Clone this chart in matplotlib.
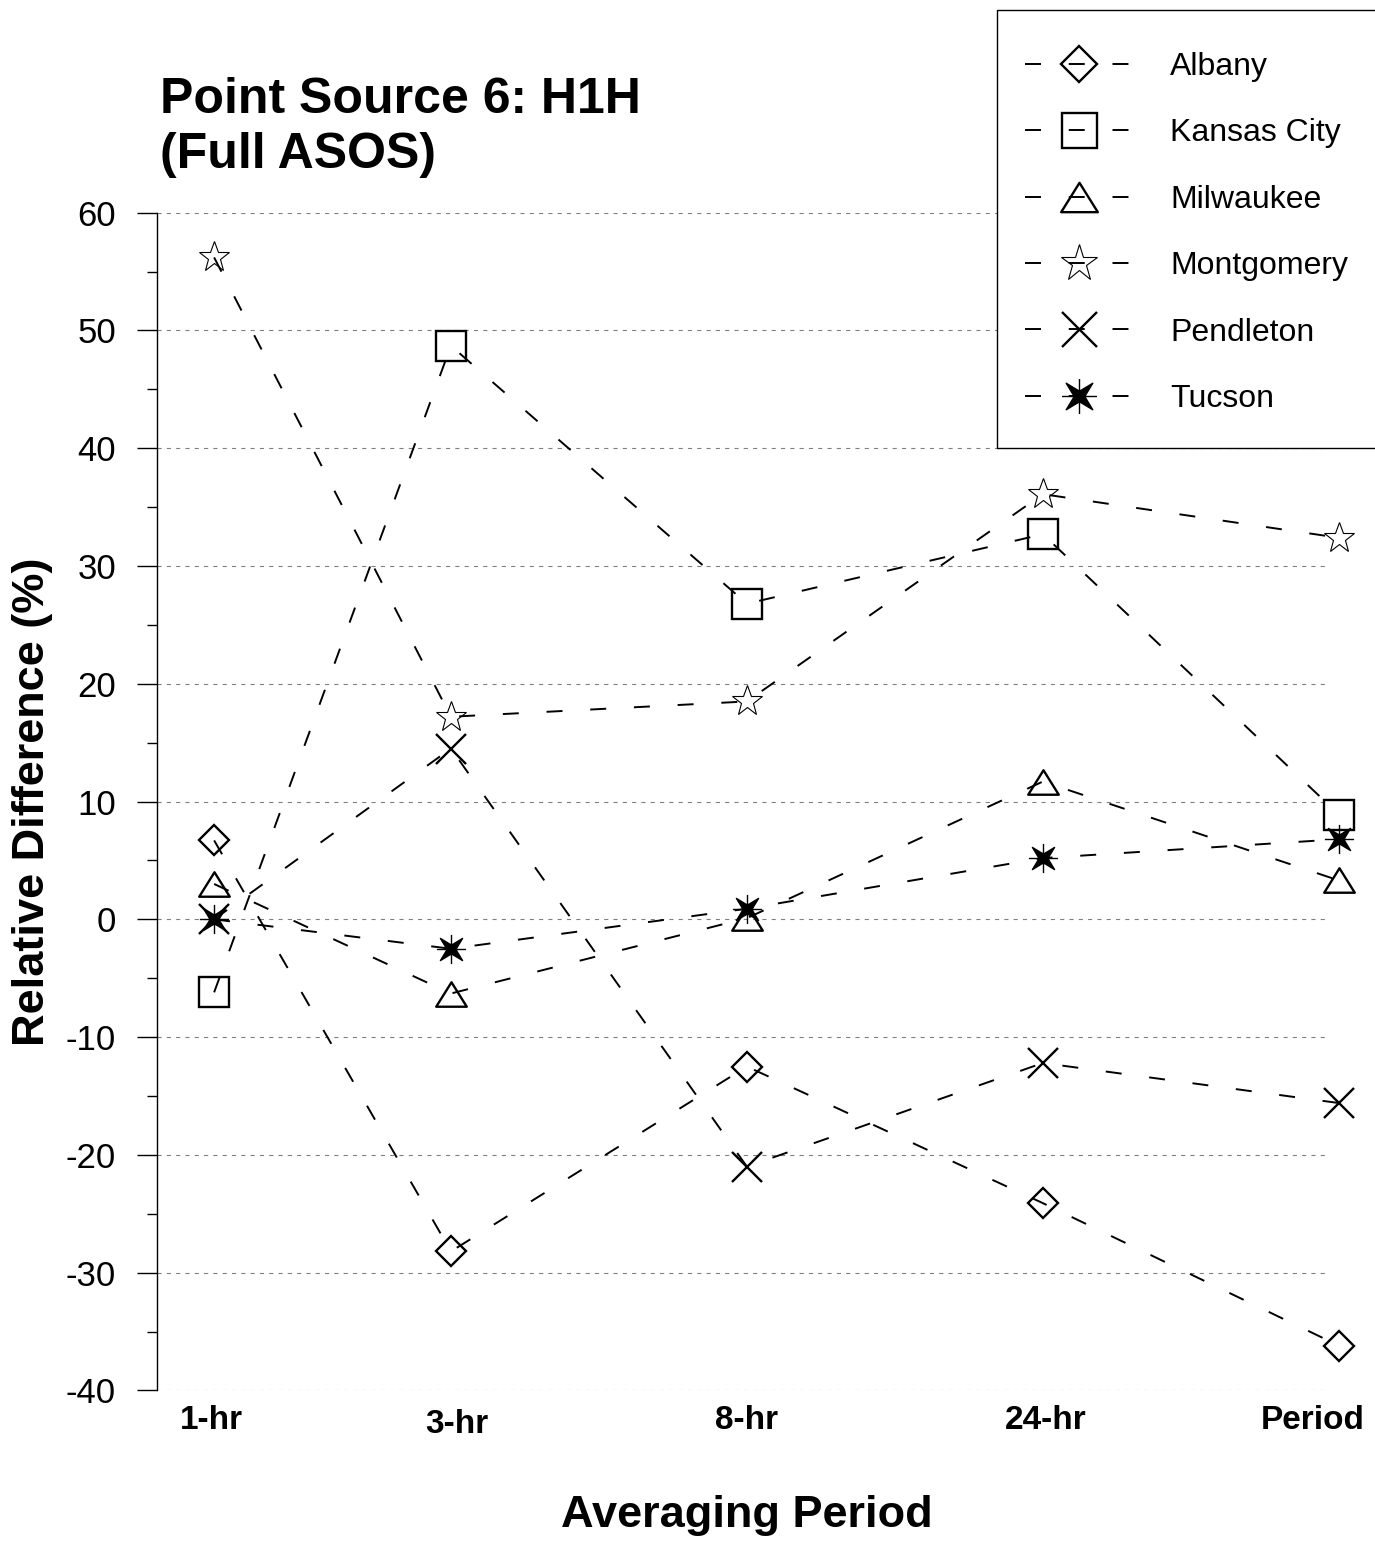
import matplotlib
matplotlib.use("Agg")
import matplotlib.pyplot as plt
import numpy as np
from matplotlib.path import Path
from matplotlib.patches import Rectangle

plt.rcParams["font.family"] = ["Liberation Sans", "DejaVu Sans"]
plt.rcParams["lines.scale_dashes"] = False
plt.rcParams["axes.unicode_minus"] = False

# data
periods = ["1-hr", "3-hr", "8-hr", "24-hr", "Period"]
albany = [6.7, -28.2, -12.5, -24.1, -36.2]
kansas_city = [-6.2, 48.7, 26.8, 32.7, 8.9]
milwaukee = [3.0, -6.3, 0.1, 11.7, 3.3]
montgomery = [56.2, 17.2, 18.5, 36.1, 32.4]
pendleton = [0.0, 14.5, -21.0, -12.2, -15.6]
tucson = [0.0, -2.5, 0.9, 5.2, 6.8]

# layout: category positions on the x axis (first gap is narrower in the original)
cat_pos = np.array([0.2, 1, 2, 3, 4])
label_shift = [-0.01, 0.02, 0.0, 0.01, -0.09]
label_drop = [0, 4, 0, 0, 0]  # px, "3-hr" sits a bit lower

W, H = 1375, 1541
fig = plt.figure(figsize=(W / 100, H / 100), dpi=100)
ax = fig.add_axes([157 / W, 1 - 1390.4 / H, (1330 - 157) / W, (1390.4 - 212.7) / H])

triangle = Path([(-0.5, -0.4), (0.5, -0.4), (0.0, 0.4), (-0.5, -0.4)],
                [Path.MOVETO, Path.LINETO, Path.LINETO, Path.CLOSEPOLY])
s, t = 0.15, 0.38
tucson_marker = Path(
    [(t, t), (0, s), (-t, t), (-s, 0), (-t, -t), (0, -s), (t, -t), (s, 0), (t, t),
     (-0.5, 0), (0.5, 0), (0, -0.5), (0, 0.5)],
    [Path.MOVETO] + [Path.LINETO] * 7 + [Path.CLOSEPOLY,
     Path.MOVETO, Path.LINETO, Path.MOVETO, Path.LINETO])

dash = (0, (11.5, 20))
series = [
    ("Albany", albany, dict(marker="D", ms=15.3, mew=1.7, mfc="none")),
    ("Kansas City", kansas_city, dict(marker="s", ms=21, mew=1.7, mfc="none")),
    ("Milwaukee", milwaukee, dict(marker=triangle, ms=22, mew=1.7, mfc="none")),
    ("Montgomery", montgomery, dict(marker="*", ms=23, mew=0.8, mfc="none")),
    ("Pendleton", pendleton, dict(marker="x", ms=21, mew=1.7)),
    ("Tucson", tucson, dict(marker=tucson_marker, ms=21, mew=1.0, mfc="black")),
]
handles = []
for name, vals, style in series:
    (ln,) = ax.plot(cat_pos, vals, color="black", lw=1.4, linestyle=dash,
                    mec="black", clip_on=False, label=name, **style)
    handles.append(ln)

ax.set_xlim(0.007, 3.97)
ax.set_ylim(-40, 60)
ax.set_yticks(np.arange(-40, 61, 10))
ax.set_yticks(np.arange(-35, 60, 10), minor=True)
ax.tick_params(axis="y", which="major", length=14.5, width=1, pad=15, labelsize=25)
ax.tick_params(axis="y", which="minor", length=7.2, width=1)
ax.set_xticks([])
ax.yaxis.grid(True, color="#808080", lw=0.8, linestyle=(0, (3, 3.7)))
ax.set_axisbelow(True)
for side in ("top", "right", "bottom"):
    ax.spines[side].set_visible(False)
ax.spines["left"].set_linewidth(1)

for lab, p, dx, dy in zip(periods, cat_pos, label_shift, label_drop):
    ax.annotate(lab, xy=(p + dx, 0), xycoords=("data", "axes fraction"),
                xytext=(0, -30 - dy), textcoords="offset pixels",
                ha="center", va="center", fontsize=24, fontweight="bold")

ax.set_ylabel("Relative Difference (%)", fontsize=32.5, fontweight="bold", labelpad=9)
fig.text(747 / W, 1 - 1515 / H, "Averaging Period", ha="center", va="center",
         fontsize=32.5, fontweight="bold")
fig.text(160 / W, 1 - 113 / H, "Point Source 6: H1H", ha="left", va="baseline",
         fontsize=36, fontweight="bold")
fig.text(160 / W, 1 - 168 / H, "(Full ASOS)", ha="left", va="baseline",
         fontsize=36, fontweight="bold")

# opaque legend box that runs off the right edge, as in the original
fig.patches.append(Rectangle((997 / W, 1 - 448 / H), 400 / W, 438 / H,
                             transform=fig.transFigure, facecolor="white",
                             edgecolor="black", lw=1, zorder=3))
fig.legend(handles=handles, loc="upper left",
           bbox_to_anchor=(1025 / W, 1 - 52 / H), frameon=False,
           fontsize=23, markerscale=1.2, handlelength=3.4,
           handletextpad=1.15, labelspacing=1.14, borderpad=0, borderaxespad=0)

fig.savefig("out.png", dpi=100)
